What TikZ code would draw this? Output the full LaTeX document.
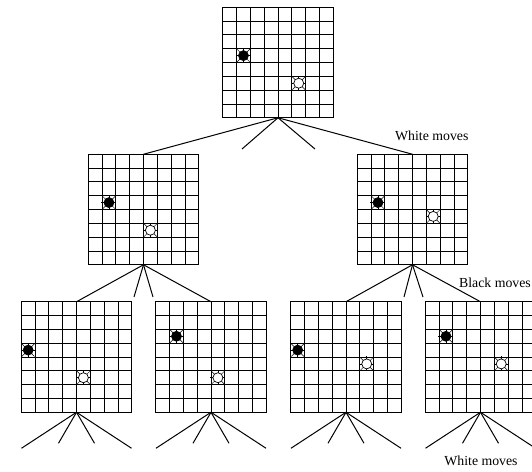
\documentclass[tikz,border=0pt]{standalone}
\usepackage{fontspec}
\setmainfont{Liberation Serif}

\newcommand{\cellsz}{13.8125pt}
% stone on a board: board, column, row, fill
\newcommand{\stone}[4]{%
	\begin{scope}[shift={(#1.north west)},x=\cellsz,y=-\cellsz]
		\foreach \a in {0,90,180,270}
			\draw[line width=.5pt] (#2+.5,#3+.5) ++(\a:5pt) -- ++(\a:2.5pt);
		\foreach \a in {45,135,225,315}
			\draw[line width=.5pt] (#2+.5,#3+.5) ++(\a:5pt) -- ++(\a:4pt);
		\draw[fill=#4,line width=.7pt] (#2+.5,#3+.5) circle (5pt);
	\end{scope}}

\begin{document}
\begin{tikzpicture}[x=1pt,y=-1pt]
		\tikzstyle{board}=[rectangle,draw=black,line width=1.2pt,minimum size=110.5pt,inner sep=0pt,outer sep=0pt,
			path picture={\foreach \i in {1,...,7}{
				\draw[line width=.8pt] ([xshift=\i*\cellsz]path picture bounding box.north west) -- ([xshift=\i*\cellsz]path picture bounding box.south west);
				\draw[line width=.8pt] ([yshift=-\i*\cellsz]path picture bounding box.north west) -- ([yshift=-\i*\cellsz]path picture bounding box.north east);}}]
		\tikzstyle{edge}=[draw=black,line width=1pt]
		\tikzstyle{movetext}=[font=\fontsize{13.8}{16}\selectfont,inner sep=0pt]

		\useasboundingbox (0,0) rectangle (532,471);

		\begin{scope}
			\node [board] (top) at (278,62.5) {};
			\node [board] (ml) at (143.5,209.5) {};
			\node [board] (mr) at (412.5,209.5) {};
			\node [board] (b1) at (76.5,357) {};
			\node [board] (b2) at (211,357) {};
			\node [board] (b3) at (346,357) {};
			\node [board] (b4) at (480.5,357) {};

			\coordinate (t1) at (242,149);
			\coordinate (t2) at (315,149);
			\coordinate (ml1) at (134,297);
			\coordinate (ml2) at (153,297);
			\coordinate (mr1) at (404,297);
			\coordinate (mr2) at (423,297);

			\path[edge] (top.south) edge (ml.north) edge (t1) edge (t2) edge (mr.north);
			\path[edge] (ml.south) edge (b1.north) edge (ml1) edge (ml2) edge (b2.north);
			\path[edge] (mr.south) edge (b3.north) edge (mr1) edge (mr2) edge (b4.north);

			\foreach \b in {b1,b2,b3,b4}{
				\path (\b.south) ++(-55,36) coordinate (\b-1);
				\path (\b.south) ++(-18,31) coordinate (\b-2);
				\path (\b.south) ++(18,31) coordinate (\b-3);
				\path (\b.south) ++(55,36) coordinate (\b-4);
				\path[edge] (\b.south) edge (\b-1) edge (\b-2) edge (\b-3) edge (\b-4);
			}

			\stone{top}{1}{3}{black} \stone{top}{5}{5}{white}
			\stone{ml}{1}{3}{black} \stone{ml}{4}{5}{white}
			\stone{mr}{1}{3}{black} \stone{mr}{5}{4}{white}
			\stone{b1}{0}{3}{black} \stone{b1}{4}{5}{white}
			\stone{b2}{1}{2}{black} \stone{b2}{4}{5}{white}
			\stone{b3}{0}{3}{black} \stone{b3}{5}{4}{white}
			\stone{b4}{1}{2}{black} \stone{b4}{5}{4}{white}

			\node [movetext,anchor=west] (wm1) at (395,136) {White moves};
			\node [movetext,anchor=east] (bm) at (531,283) {Black moves};
			\node [movetext] (wm2) at (481,461) {White moves};
		\end{scope}
\end{tikzpicture}
\end{document}
